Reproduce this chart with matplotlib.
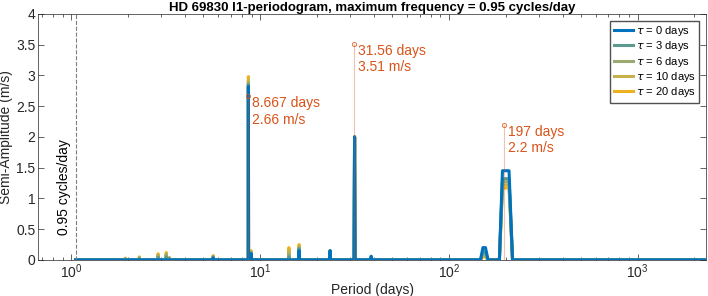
import numpy as np
import matplotlib.pyplot as plt
from matplotlib.ticker import LogLocator, NullFormatter

plt.rcParams['font.family'] = ['Liberation Sans', 'DejaVu Sans']

# frequency grid of the periodogram (cycles/day)
df = 0.0002
fmax = 0.95

taus = [0, 3, 6, 10, 20]
colors = ["#0072bd", "#5a9a90", "#9aaa70", "#c8b14a", "#edb120"]

# nonzero periodogram values: period (days) -> semi-amplitude (m/s), per tau
peak_periods = [1.93, 2.29, 2.88, 3.18, 3.3, 5.64, 8.667, 8.96, 14.2, 16.1,
                23.5, 31.56, 38.7, 151.5, 156.3, 192, 200, 208]
amps = {
    0:  [0.00, 0.00, 0.00, 0.00, 0.00, 0.03, 2.82, 0.10, 0.00, 0.15,
         0.15, 2.00, 0.06, 0.20, 0.20, 1.45, 1.45, 1.45],
    3:  [0.00, 0.02, 0.04, 0.05, 0.02, 0.04, 2.85, 0.11, 0.05, 0.18,
         0.15, 2.00, 0.05, 0.13, 0.13, 1.32, 1.32, 1.32],
    6:  [0.01, 0.03, 0.06, 0.08, 0.03, 0.05, 2.88, 0.12, 0.10, 0.20,
         0.15, 2.00, 0.05, 0.10, 0.10, 1.27, 1.27, 1.27],
    10: [0.02, 0.04, 0.08, 0.10, 0.03, 0.06, 2.92, 0.13, 0.15, 0.22,
         0.14, 2.00, 0.04, 0.07, 0.07, 1.22, 1.22, 1.22],
    20: [0.03, 0.05, 0.10, 0.12, 0.04, 0.07, 2.98, 0.15, 0.20, 0.25,
         0.14, 2.00, 0.04, 0.05, 0.05, 1.17, 1.17, 1.17],
}

# annotated peaks
ann_periods = [8.667, 31.56, 197]
ann_amps = [2.66, 3.51, 2.2]
ann_labels = ["8.667 days\n2.66 m/s", "31.56 days\n3.51 m/s", "197 days\n2.2 m/s"]

freqs = np.arange(1, int(round(fmax / df)) + 1) * df
periods = 1.0 / freqs

fig = plt.figure(figsize=(7.08, 2.96), dpi=100)
ax = fig.add_axes([0.054, 0.122, 0.943, 0.831])

lines = {}
for tau, c in reversed(list(zip(taus, colors))):
    y = np.zeros_like(freqs)
    for p, a in zip(peak_periods, amps[tau]):
        y[np.argmin(np.abs(freqs - 1.0 / p))] = a
    lines[tau], = ax.plot(periods, y, color=c, lw=2.2,
                          label=r"$\tau$ = %d days" % tau)

red = "#d95319"
for p, a, lab in zip(ann_periods, ann_amps, ann_labels):
    ax.plot([p, p], [0, a], color=red, lw=0.8, alpha=0.35)
    ax.plot(p, a, "o", mfc="none", mec=red, ms=3, mew=0.7, alpha=0.8)
    ax.text(p * 1.04, a, lab, color=red, fontsize=10, va="top", ha="left",
            linespacing=1.2)

ax.axvline(1 / fmax, color="#7f7f7f", ls="--", lw=0.8)
ax.text(1 / fmax * 0.95, 0.4, "0.95 cycles/day", rotation=90, ha="right",
        va="bottom", fontsize=10)

ax.set_xscale("log")
ax.set_xlim(0.667, 2300)
ax.set_ylim(0, 4)
ax.set_yticks(np.arange(0, 4.01, 0.5))
ax.set_yticklabels(["0", "0.5", "1", "1.5", "2", "2.5", "3", "3.5", "4"])
ax.xaxis.set_major_locator(LogLocator(base=10, numticks=10))
ax.xaxis.set_minor_locator(LogLocator(base=10, subs=np.arange(2, 10), numticks=20))
ax.xaxis.set_minor_formatter(NullFormatter())
ax.tick_params(which="both", direction="in", top=True, right=True,
               colors="#262626", labelsize=10, width=0.5, pad=2)
ax.tick_params(which="major", length=4)
ax.tick_params(which="minor", length=2)
for s in ax.spines.values():
    s.set_color("#262626")
    s.set_linewidth(0.5)

ax.set_xlabel("Period (days)", fontsize=10, color="#262626", labelpad=1)
ax.set_ylabel("Semi-Amplitude (m/s)", fontsize=10, color="#262626", labelpad=2)
ax.set_title("HD 69830 l1-periodogram, maximum frequency = 0.95 cycles/day",
             fontsize=9.5, fontweight="bold", pad=1.5)

ax.legend(handles=[lines[t] for t in taus], loc="upper right", fontsize=8,
          frameon=True, fancybox=False, edgecolor="#262626", handlelength=1.7,
          borderaxespad=0.6, labelspacing=0.12, handletextpad=0.3,
          borderpad=0.3)

fig.savefig("out.png", dpi=100)
